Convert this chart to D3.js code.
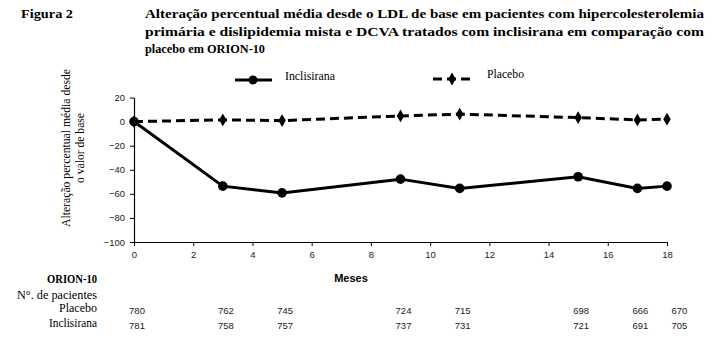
<!DOCTYPE html>
<html><head><meta charset="utf-8">
<script src="https://cdn.jsdelivr.net/npm/d3@7"></script>
<style>
html,body{margin:0;padding:0;background:#fff;}
svg{display:block;}
.serif{font-family:"Liberation Serif","DejaVu Serif","Times New Roman",serif;}
.sans{font-family:"Liberation Sans",Arial,sans-serif;}
</style></head>
<body>
<script>
// ---- data ----
const months = [0, 3, 5, 9, 11, 15, 17, 18];
const inclisirana = [0, -53.6, -59.2, -47.8, -55.5, -45.8, -55.5, -53.6];
const placebo = [0, 1.4, 0.8, 4.7, 6.2, 3.3, 1.4, 2];
const nPlacebo = [780, 762, 745, 724, 715, 698, 666, 670];
const nInclisirana = [781, 758, 757, 737, 731, 721, 691, 705];
const xTicks = [0, 2, 4, 6, 8, 10, 12, 14, 16, 18];
const yTicks = [-100, -80, -60, -40, -20, 0, 20];
const titleLines = [
  "Alteração percentual média desde o LDL de base em pacientes com hipercolesterolemia",
  "primária e dislipidemia mista e DCVA tratados com inclisirana em comparação com",
  "placebo em ORION-10"
];
const yTitleLines = ["Alteração percentual média desde", "o valor de base"];
const rowLabels = ["Placebo", "Inclisirana"];

const W = 725, H = 341;
const svg = d3.select("body").append("svg").attr("width", W).attr("height", H);
svg.append("rect").attr("width", W).attr("height", H).attr("fill", "#fff");

// ---- title ----
svg.append("text").attr("class", "serif").attr("x", 21).attr("y", 18)
  .attr("font-weight", "bold").attr("font-size", 13)
  .attr("textLength", 52).attr("lengthAdjust", "spacingAndGlyphs")
  .text("Figura 2");
const tY = [18, 36, 53];
const tLen = [559, 559, 120];
titleLines.forEach((t, i) => {
  svg.append("text").attr("class", "serif").attr("x", 145).attr("y", tY[i])
    .attr("font-weight", "bold").attr("font-size", 13)
    .attr("textLength", tLen[i]).attr("lengthAdjust", "spacingAndGlyphs")
    .text(t);
});

// ---- scales ----
const x = d3.scaleLinear().domain([0, 18]).range([134, 667]);
const y = d3.scaleLinear().domain([-100, 20]).range([242, 97.5]);

// ---- axes ----
const gx = svg.append("g").attr("transform", `translate(0,${y(-100)})`)
  .call(d3.axisBottom(x).tickValues(xTicks).tickSize(4).tickPadding(5).tickSizeOuter(0));
const gy = svg.append("g").attr("transform", `translate(${x(0)},0)`)
  .call(d3.axisLeft(y).tickValues(yTicks).tickSize(4).tickPadding(5).tickSizeOuter(0));
[gx, gy].forEach(g => {
  g.select(".domain").attr("stroke", "#000").attr("stroke-width", 1.2);
  g.selectAll(".tick line").attr("stroke", "#000");
  g.selectAll(".tick text").attr("font-family", null).attr("class", "sans")
    .attr("font-size", 9.5).attr("fill", "#222");
});
gx.attr("font-family", null); gy.attr("font-family", null);

// ---- y title ----
const yT = svg.append("g").attr("transform", "translate(70,148) rotate(-90)");
const yLen = [158, 70];
yTitleLines.forEach((t, i) => {
  yT.append("text").attr("class", "serif").attr("x", 0).attr("y", i * 14).attr("text-anchor", "middle")
    .attr("font-size", 12.5).attr("textLength", yLen[i]).attr("lengthAdjust", "spacingAndGlyphs").text(t);
});

// ---- lines ----
const line = d3.line().x(d => x(d[0])).y(d => y(d[1]));
const incData = months.map((m, i) => [m, inclisirana[i]]);
const plaData = months.map((m, i) => [m, placebo[i]]);
const diamond = d3.symbol().type(d3.symbolDiamond).size(48);

svg.append("path").datum(plaData).attr("d", line).attr("fill", "none")
  .attr("stroke", "#000").attr("stroke-width", 3).attr("stroke-dasharray", "9,5");
svg.selectAll(".pm").data(plaData).enter().append("path")
  .attr("d", diamond).attr("transform", d => `translate(${x(d[0])},${y(d[1])})`).attr("fill", "#000");

svg.append("path").datum(incData).attr("d", line).attr("fill", "none")
  .attr("stroke", "#000").attr("stroke-width", 3);
svg.selectAll(".im").data(incData).enter().append("circle")
  .attr("cx", d => x(d[0])).attr("cy", d => y(d[1])).attr("r", 4.8).attr("fill", "#000");

// ---- legend ----
const lg = svg.append("g");
lg.append("line").attr("x1", 235).attr("x2", 272).attr("y1", 80).attr("y2", 80)
  .attr("stroke", "#000").attr("stroke-width", 3);
lg.append("circle").attr("cx", 253).attr("cy", 80).attr("r", 4.5).attr("fill", "#000");
lg.append("text").attr("class", "serif").attr("x", 285).attr("y", 80).attr("font-size", 12)
  .attr("textLength", 50).attr("lengthAdjust", "spacingAndGlyphs").text("Inclisirana");
lg.append("line").attr("x1", 433).attr("x2", 470).attr("y1", 79).attr("y2", 79)
  .attr("stroke", "#000").attr("stroke-width", 3).attr("stroke-dasharray", "9,5");
lg.append("path").attr("d", diamond).attr("transform", "translate(452,79)").attr("fill", "#000");
lg.append("text").attr("class", "serif").attr("x", 487).attr("y", 78).attr("font-size", 12)
  .attr("textLength", 37).attr("lengthAdjust", "spacingAndGlyphs").text("Placebo");

// ---- x title ----
svg.append("text").attr("class", "sans").attr("x", 351).attr("y", 282).attr("text-anchor", "middle")
  .attr("font-weight", "bold").attr("font-size", 11).text("Meses");

// ---- patient table ----
svg.append("text").attr("class", "serif").attr("x", 97).attr("y", 283).attr("text-anchor", "end")
  .attr("font-weight", "bold").attr("font-size", 11.5)
  .attr("textLength", 50).attr("lengthAdjust", "spacingAndGlyphs").text("ORION-10");
svg.append("text").attr("class", "serif").attr("x", 97).attr("y", 299).attr("text-anchor", "end")
  .attr("font-size", 11.5).attr("textLength", 80).attr("lengthAdjust", "spacingAndGlyphs").text("N°. de pacientes");
const rowY = [312, 327];
const rowLen = [38, 48];
rowLabels.forEach((l, i) => {
  svg.append("text").attr("class", "serif").attr("x", 97).attr("y", rowY[i]).attr("text-anchor", "end")
    .attr("font-size", 11.5).attr("textLength", rowLen[i]).attr("lengthAdjust", "spacingAndGlyphs").text(l);
});
// column centres, nudged apart when too close
const colX = [];
months.forEach((m, i) => {
  let c = x(m) + 3;
  if (i > 0 && c - colX[i - 1] < 39) c = colX[i - 1] + 39;
  colX.push(c);
});
[nPlacebo, nInclisirana].forEach((arr, r) => {
  svg.selectAll(null).data(arr).enter().append("text").attr("class", "sans")
    .attr("x", (d, i) => colX[i]).attr("y", rowY[r] + 1.5).attr("text-anchor", "middle")
    .attr("font-size", 9.5).attr("fill", "#222").text(d => d);
});
</script>
</body></html>
